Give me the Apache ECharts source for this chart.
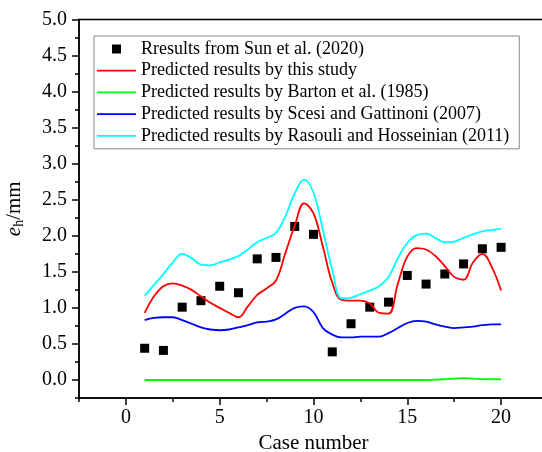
<!DOCTYPE html>
<html><head><meta charset="utf-8">
<script src="https://cdn.jsdelivr.net/npm/echarts@6/dist/echarts.min.js"></script>
<style>html,body{margin:0;padding:0;background:#fff}#c{width:542px;height:452px}</style>
</head><body><div id="c"></div>
<script>
// measured points
const caseNumbers = [1,2,3,4,5,6,7,8,9,10,11,12,13,14,15,16,17,18,19,20];
const measured = [0.44,0.41,1.01,1.10,1.30,1.21,1.68,1.70,2.13,2.02,0.39,0.78,1.01,1.08,1.45,1.33,1.47,1.61,1.82,1.84];

// predicted curves at half-case steps
const lineCases = [1,1.5,2,2.5,3,3.5,4,4.5,5,5.5,6,6.5,7,7.5,8,8.5,9,9.5,10,10.5,11,11.5,12,12.5,13,13.5,14,14.5,15,15.5,16,16.5,17,17.5,18,18.5,19,19.5,20];
const thisStudy = [0.93,1.16,1.30,1.34,1.31,1.25,1.16,1.07,1.00,0.93,0.87,1.02,1.18,1.27,1.38,1.76,2.14,2.45,2.31,1.85,1.35,1.11,1.10,1.10,1.06,0.93,0.92,1.34,1.71,1.83,1.81,1.72,1.58,1.43,1.39,1.63,1.75,1.57,1.24];
const barton = [0,0,0,0,0,0,0,0,0,0,0,0,0,0,0,0,0,0,0,0,0,0,0,0,0,0,0,0,0,0,0,0.005,0.01,0.018,0.025,0.018,0.012,0.01,0.01];
const scesi = [0.83,0.86,0.87,0.87,0.83,0.78,0.73,0.70,0.69,0.70,0.73,0.76,0.80,0.81,0.84,0.92,1.00,1.02,0.94,0.72,0.63,0.59,0.59,0.60,0.60,0.60,0.65,0.72,0.79,0.82,0.81,0.77,0.74,0.72,0.73,0.74,0.76,0.77,0.77];
const rasouli = [1.17,1.32,1.47,1.63,1.75,1.69,1.60,1.59,1.63,1.67,1.72,1.81,1.91,1.97,2.04,2.27,2.59,2.78,2.60,2.08,1.53,1.13,1.14,1.19,1.24,1.30,1.43,1.69,1.90,2.01,2.03,1.97,1.91,1.92,1.97,2.02,2.06,2.08,2.10];

const seriesNames = ['Rresults from Sun et al. (2020)','Predicted results by this study','Predicted results by Barton et al. (1985)','Predicted results by Scesi and Gattinoni (2007)','Predicted results by Rasouli and Hosseinian (2011)'];
const xMajorTicks = [0,5,10,15,20];
const xMinorTicks = [-2.5,2.5,7.5,12.5,17.5,22.5];
const yMajorTicks = [0,0.5,1,1.5,2,2.5,3,3.5,4,4.5,5];
const yMinorTicks = [-0.25,0.25,0.75,1.25,1.75,2.25,2.75,3.25,3.75,4.25,4.75];

const FONT = 'Liberation Serif';
const pair = (xs, ys) => xs.map((x, i) => [x, ys[i]]);
const chart = echarts.init(document.getElementById('c'), null, {renderer: 'canvas'});
const lineSeries = (name, ys, color) => ({
  name, type: 'line', data: pair(lineCases, ys), smooth: 0.4, symbol: 'none',
  lineStyle: {color, width: 1.8}, itemStyle: {color}
});
const squareIcon = 'path://M0 0 H9 V9 H0 Z';
const lineIcon = 'path://M0 0 H39 V1.8 H0 Z';
chart.setOption({
  animation: false,
  backgroundColor: '#fff',
  textStyle: {fontFamily: FONT, color: '#000'},
  grid: {left: 79, top: 19.5, width: 469, height: 378.5, outerBoundsMode: 'none', containLabel: false,
         show: true, borderColor: '#000', borderWidth: 1.5, backgroundColor: 'transparent'},
  legend: {
    orient: 'vertical', left: 94, top: 36, padding: [4, 10, 4, 3],
    itemWidth: 39, itemHeight: 9, itemGap: 3.7, itemTextGap: 5,
    borderColor: '#888', borderWidth: 1, backgroundColor: '#fff',
    textStyle: {fontFamily: FONT, fontSize: 18, color: '#000', lineHeight: 18},
    data: seriesNames.map((n, i) => ({name: n, icon: i === 0 ? squareIcon : lineIcon}))
  },
  xAxis: [{
    type: 'value', min: -2.5, max: 22.5, position: 'bottom',
    axisLine: {show: true, onZero: false, lineStyle: {color: '#000', width: 1.5}},
    axisTick: {show: true, customValues: xMajorTicks, length: 7, lineStyle: {color: '#000', width: 1.5}},
    axisLabel: {customValues: xMajorTicks, fontSize: 20, margin: 10, color: '#000', fontFamily: FONT},
    splitLine: {show: false},
    name: 'Case number', nameLocation: 'middle', nameGap: 31,
    nameTextStyle: {fontSize: 21, color: '#000', fontFamily: FONT}
  }, {
    type: 'value', min: -2.5, max: 22.5, position: 'bottom',
    axisLine: {show: false, onZero: false},
    axisTick: {show: true, customValues: xMinorTicks, length: 4, lineStyle: {color: '#000', width: 1.5}},
    axisLabel: {show: false}, splitLine: {show: false}
  }],
  yAxis: [{
    type: 'value', min: -0.25, max: 5, position: 'left',
    axisLine: {show: true, onZero: false, lineStyle: {color: '#000', width: 1.5}},
    axisTick: {show: true, customValues: yMajorTicks, length: 7, lineStyle: {color: '#000', width: 1.5}},
    axisLabel: {customValues: yMajorTicks, fontSize: 20, margin: 12, color: '#000', fontFamily: FONT, formatter: v => v.toFixed(1)},
    splitLine: {show: false},
    name: '{i|e}{s|h}{n|/mm}', nameLocation: 'middle', nameGap: 53,
    nameTextStyle: {
      fontFamily: FONT, color: '#000',
      rich: {
        i: {fontSize: 21, fontStyle: 'italic', fontFamily: FONT, color: '#000'},
        s: {fontSize: 14, fontFamily: FONT, color: '#000', padding: [9, 0, 0, 0]},
        n: {fontSize: 21, fontFamily: FONT, color: '#000'}
      }
    }
  }, {
    type: 'value', min: -0.25, max: 5, position: 'left',
    axisLine: {show: false, onZero: false},
    axisTick: {show: true, customValues: yMinorTicks, length: 4, lineStyle: {color: '#000', width: 1.5}},
    axisLabel: {show: false}, splitLine: {show: false}
  }],
  series: [
    {name: seriesNames[0], type: 'scatter', data: pair(caseNumbers, measured), symbol: 'rect', symbolSize: 9, itemStyle: {color: '#000', opacity: 1}},
    lineSeries(seriesNames[1], thisStudy, '#ff0000'),
    lineSeries(seriesNames[2], barton, '#00ff00'),
    lineSeries(seriesNames[3], scesi, '#0000ff'),
    lineSeries(seriesNames[4], rasouli, '#00ffff')
  ]
});
</script></body></html>
